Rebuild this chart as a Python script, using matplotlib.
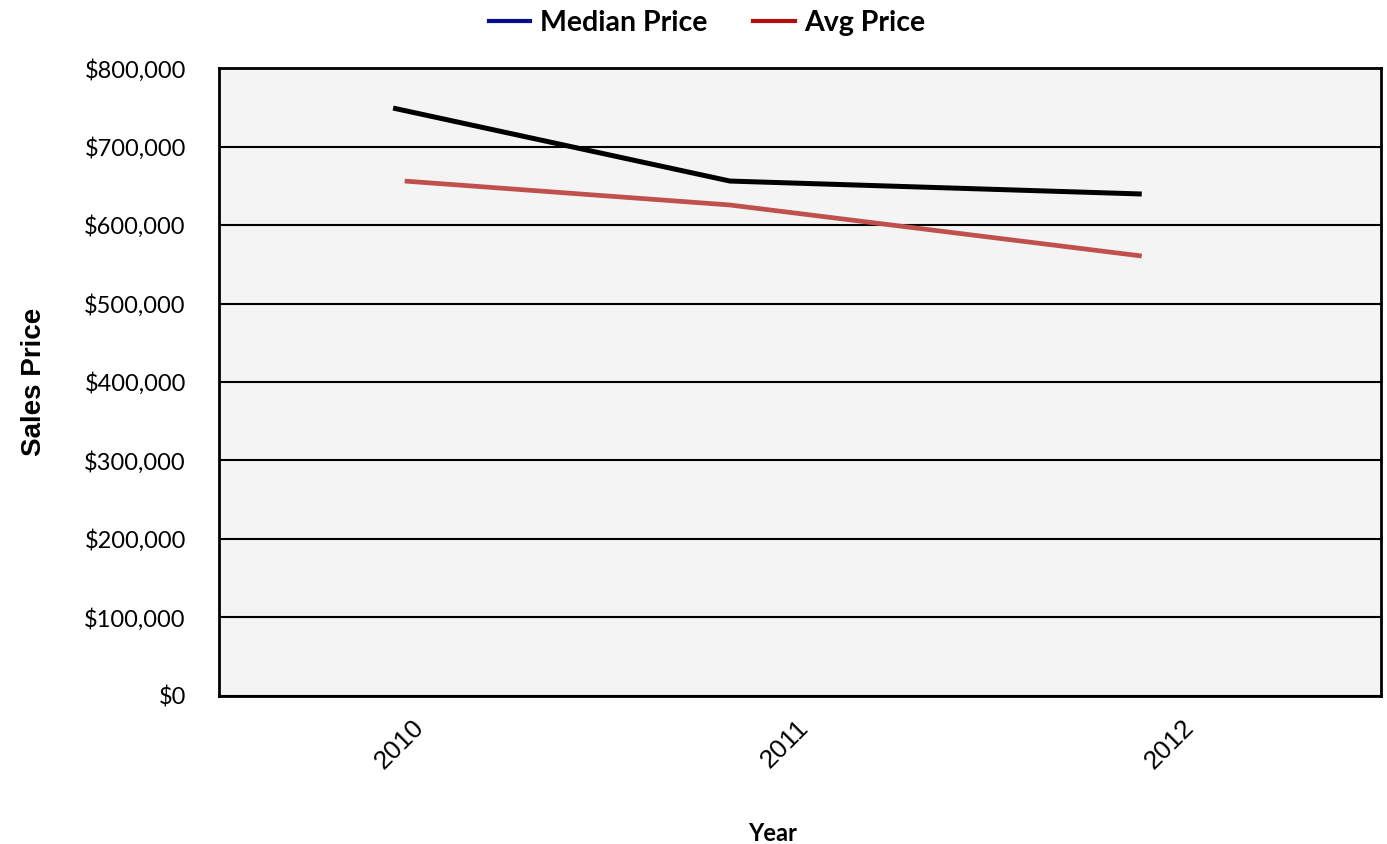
import matplotlib.pyplot as plt
from matplotlib.lines import Line2D
from matplotlib.ticker import FuncFormatter, MultipleLocator

# sales price by year (x in fractional years, as plotted on the date axis)
median_x = [2009.93, 2010.805, 2011.875]
median_price = [749000, 656000, 639500]
avg_x = [2009.96, 2010.805, 2011.875]
avg_price = [656000, 625500, 560500]
year_ticks = [2010, 2011, 2012]
year_labels = ["2010", "2011", "2012"]

fig = plt.figure(figsize=(13.87, 8.44), dpi=100)
ax = fig.add_axes([0.158, 0.1754, 0.8375, 0.744])
ax.set_facecolor("#F4F4F4")

ax.plot(median_x, median_price, color="black", linewidth=3.6, solid_capstyle="butt")
ax.plot(avg_x, avg_price, color="#C0504D", linewidth=3.4, solid_capstyle="butt")

ax.set_xlim(2009.478, 2012.496)
ax.set_ylim(0, 800000)
ax.yaxis.set_major_locator(MultipleLocator(100000))
ax.yaxis.set_major_formatter(FuncFormatter(lambda v, p: f"${v:,.0f}"))
ax.grid(axis="y", color="black", linewidth=1.5)
ax.set_axisbelow(True)

ax.set_xticks(year_ticks)
ax.tick_params(axis="both", length=0)
ax.tick_params(axis="x", pad=20)
ax.tick_params(axis="y", pad=24)
ax.set_xticklabels(year_labels)
for lbl in ax.get_xticklabels():
    lbl.set_family("Liberation Sans")
    lbl.set_fontsize(19)
    lbl.set_rotation(45)
    lbl.set_rotation_mode("anchor")
    lbl.set_ha("right")
    lbl.set_va("center")
for lbl in ax.get_yticklabels():
    lbl.set_family("Lato")
    lbl.set_fontsize(17)

for s in ax.spines.values():
    s.set_linewidth(2)
    s.set_color("black")

ax.set_ylabel("Sales Price", fontsize=20, fontweight="bold",
              family="Liberation Sans", labelpad=27)
ax.set_xlabel("Year", fontsize=17, fontweight="bold", family="Lato")
ax.xaxis.set_label_coords(0.476, -0.2)

# legend uses its own swatch colours
handles = [Line2D([], [], color="#0A0A8C", linewidth=3),
           Line2D([], [], color="#B01010", linewidth=3)]
fig.legend(handles, ["Median Price", "Avg Price"], loc="upper center",
           bbox_to_anchor=(0.51, 1.018), ncol=2, frameon=False,
           prop={"family": "Lato", "weight": "bold", "size": 20.5},
           handlelength=1.45, handletextpad=0.35, columnspacing=1.6)

fig.savefig("out.png", dpi=100)
